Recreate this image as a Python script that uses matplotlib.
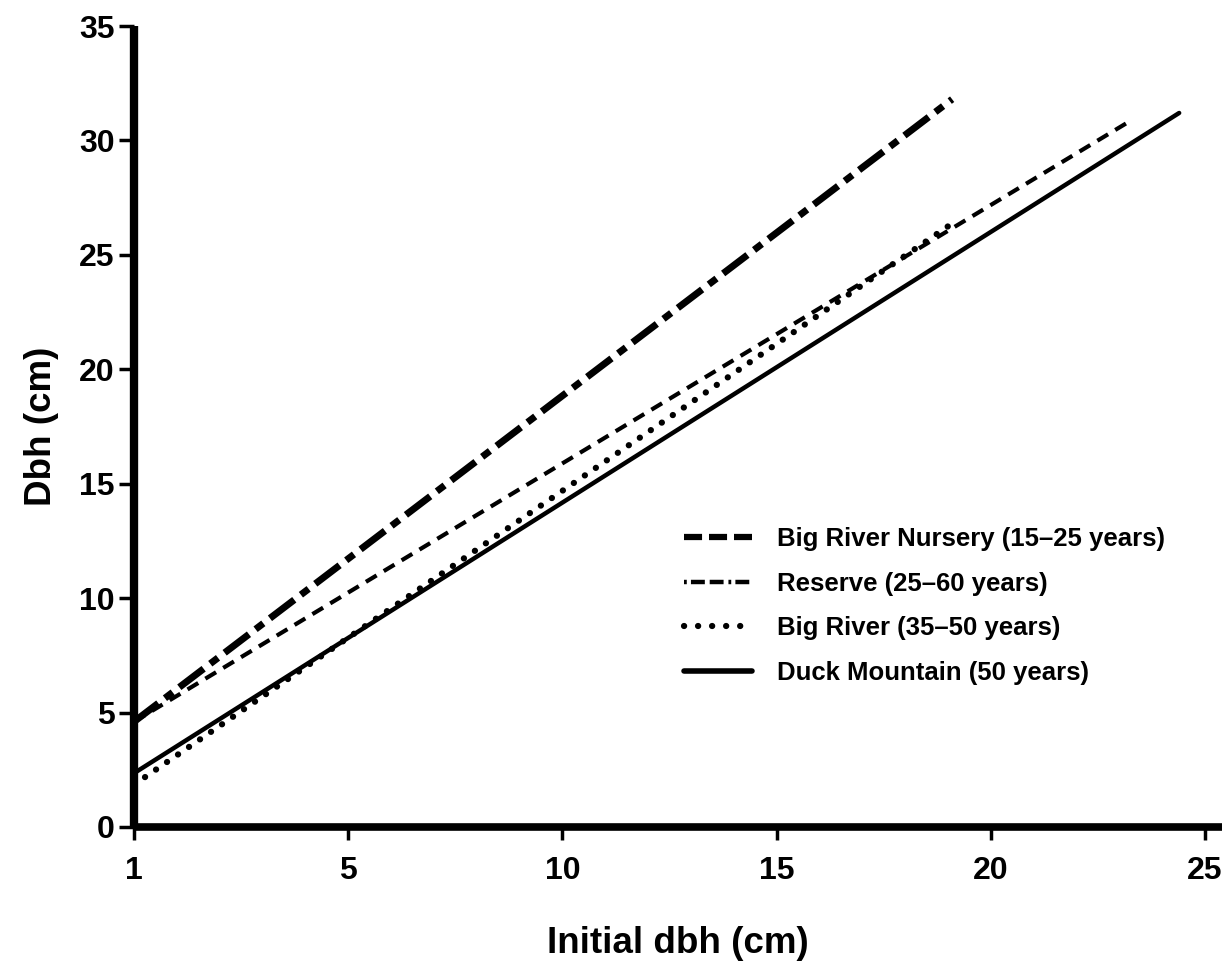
import matplotlib
matplotlib.use("Agg")
import matplotlib.pyplot as plt
from matplotlib.lines import Line2D

plt.rcParams["font.family"] = ["Liberation Sans", "DejaVu Sans"]
plt.rcParams["lines.scale_dashes"] = False

# fitted lines: (start, end) in axis x-positions and dbh values
series_names = [
    "Big River Nursery (15\u201325 years)",
    "Reserve (25\u201360 years)",
    "Big River (35\u201350 years)",
    "Duck Mountain (50 years)",
]
x_start = [0.0, 0.0, 0.0, 0.0]
x_end = [19.1, 23.3, 19.2, 24.4]
y_start = [4.6, 4.6, 1.85, 2.35]
y_end = [31.8, 30.9, 26.5, 31.2]

xtick_pos = [0, 5, 10, 15, 20, 25]
xtick_labels = ["1", "5", "10", "15", "20", "25"]
ytick_pos = [0, 5, 10, 15, 20, 25, 30, 35]

styles = [
    dict(lw=5.0, dashes=(22, 6, 7, 6), dash_capstyle="butt"),
    dict(lw=3.0, dashes=(9, 6), dash_capstyle="butt"),
    dict(lw=4.5, dashes=(0.1, 9.5), dash_capstyle="round"),
    dict(lw=3.2, linestyle="-", solid_capstyle="round"),
]
legend_styles = [
    dict(lw=4.5, dashes=(13, 5), dash_capstyle="butt"),
    dict(lw=3.2, dashes=(2, 3, 10, 3.5, 10, 3.5), dash_capstyle="butt"),
    dict(lw=4.5, dashes=(0.1, 10), dash_capstyle="round"),
    dict(lw=4.0, linestyle="-", solid_capstyle="round"),
]

fig = plt.figure(figsize=(12.3, 9.66), dpi=100)
ax = fig.add_axes([134 / 1230, 1 - 827 / 966, (1222 - 134) / 1230, (827 - 26) / 966])

for i in range(len(series_names)):
    ax.plot([x_start[i], x_end[i]], [y_start[i], y_end[i]], color="black", **styles[i])

ax.set_xlim(0, 25.4)
ax.set_ylim(0, 35)
ax.set_xticks(xtick_pos)
ax.set_xticklabels(xtick_labels)
ax.set_yticks(ytick_pos)

for side in ["top", "right"]:
    ax.spines[side].set_visible(False)
ax.spines["left"].set_linewidth(6.0)
ax.spines["bottom"].set_linewidth(5.5)
for side in ["left", "bottom"]:
    ax.spines[side].set_capstyle("butt")

ax.tick_params(axis="y", length=11, width=2.5, pad=3, labelsize=23)
ax.tick_params(axis="x", length=9, width=2.5, pad=12, labelsize=23)
for lab in ax.get_xticklabels() + ax.get_yticklabels():
    lab.set_fontweight("bold")

ax.set_xlabel("Initial dbh (cm)", fontsize=26.5, fontweight="bold", labelpad=29)
ax.set_ylabel("Dbh (cm)", fontsize=26.5, fontweight="bold", labelpad=14)

handles = [Line2D([0], [0], color="black", **s) for s in legend_styles]
ax.legend(handles, series_names, loc="upper left",
          bbox_to_anchor=(684 / 1230, 1 - 527 / 966), bbox_transform=fig.transFigure,
          frameon=False, handlelength=2.65, handletextpad=0.95,
          labelspacing=0.8, borderpad=0, borderaxespad=0,
          prop={"weight": "bold", "size": 18.5})

fig.savefig("out.png", dpi=100)
